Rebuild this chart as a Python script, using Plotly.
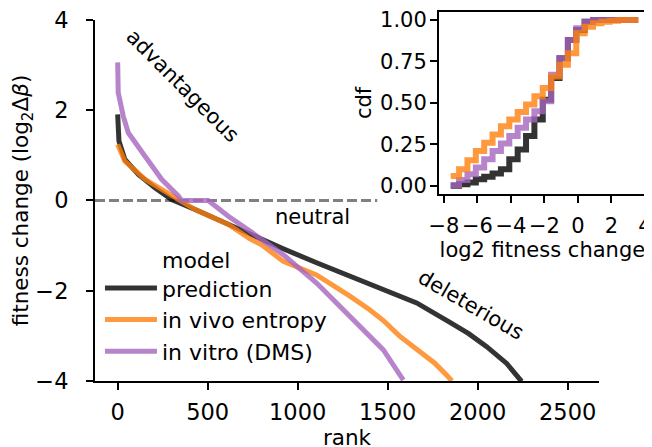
import plotly.graph_objects as go

# ---- main panel data (rank-ordered fitness changes) ----
model_rank = [0, 2, 7, 40, 115, 207, 300, 430, 615, 735, 800, 920, 1105, 1290, 1476, 1661, 1846, 1950, 2050, 2161, 2244]
model_val = [1.91, 1.6, 1.32, 0.91, 0.58, 0.28, 0.02, -0.2, -0.53, -0.76, -0.85, -1.07, -1.38, -1.68, -1.98, -2.27, -2.70, -2.95, -3.24, -3.61, -4.01]

vivo_rank = [0, 40, 152, 300, 430, 615, 735, 800, 920, 1105, 1200, 1290, 1400, 1476, 1565, 1665, 1760, 1828, 1857]
vivo_val = [1.24, 0.87, 0.47, 0.10, -0.2, -0.53, -0.85, -0.98, -1.35, -1.65, -1.88, -2.12, -2.42, -2.66, -3.0, -3.3, -3.6, -3.87, -4.0]

vitro_rank = [0, 3, 31, 59, 152, 244, 337, 355, 503, 615, 735, 920, 1105, 1290, 1476, 1587]
vitro_val = [3.06, 2.39, 1.87, 1.5, 0.98, 0.47, 0.1, 0.0, 0.0, -0.35, -0.68, -1.2, -1.83, -2.57, -3.31, -3.98]

# ---- inset cdf data ----
cdf_x = [-7.6, -7.1, -6.6, -6.1, -5.6, -5.1, -4.6, -4.1, -3.6, -3.1, -2.6, -2.1,
         -1.6, -1.1, -0.6, -0.1, 0.4, 0.9, 1.4, 1.9, 2.4, 2.9, 3.4, 3.6]
cdf_model = [0.0, 0.01, 0.02, 0.04, 0.055, 0.075, 0.10, 0.16, 0.22, 0.30, 0.40, 0.52,
             0.65, 0.77, 0.88, 0.94, 0.99, 1.0, 1.0, 1.0, 1.0, 1.0, 1.0, 1.0]
cdf_vitro = [0.005, 0.036, 0.07, 0.11, 0.16, 0.21, 0.256, 0.30, 0.35, 0.40, 0.45, 0.51,
             0.67, 0.77, 0.88, 0.95, 0.99, 1.0, 1.0, 1.0, 1.0, 1.0, 1.0, 1.0]
cdf_vivo = [0.06, 0.10, 0.155, 0.21, 0.26, 0.31, 0.36, 0.40, 0.445, 0.49, 0.54, 0.59,
            0.66, 0.73, 0.80, 0.92, 0.96, 0.98, 0.99, 0.995, 1.0, 1.0, 1.0, 1.0]

x_ticks = [0, 500, 1000, 1500, 2000, 2500]
y_ticks = [-4, -2, 0, 2, 4]
inset_xticks = [-8, -6, -4, -2, 0, 2, 4]
inset_yticks = [0, 0.25, 0.5, 0.75, 1.0]

BLACK = "rgba(0,0,0,0.8)"
ORANGE = "rgba(255,127,14,0.8)"
PURPLE = "rgba(165,101,191,0.8)"
FONT = "DejaVu Sans"

fig = go.Figure()
fig.add_trace(go.Scatter(x=model_rank, y=model_val, mode="lines", name="model<br>prediction",
                         line=dict(color=BLACK, width=5)))
fig.add_trace(go.Scatter(x=vivo_rank, y=vivo_val, mode="lines", name="in vivo entropy",
                         line=dict(color=ORANGE, width=5)))
fig.add_trace(go.Scatter(x=vitro_rank, y=vitro_val, mode="lines", name="in vitro (DMS)",
                         line=dict(color=PURPLE, width=5)))

fig.add_trace(go.Scatter(x=cdf_x, y=cdf_model, mode="lines", line=dict(color=BLACK, width=6, shape="hv"),
                         xaxis="x2", yaxis="y2", showlegend=False))
fig.add_trace(go.Scatter(x=cdf_x, y=cdf_vitro, mode="lines", line=dict(color=PURPLE, width=6, shape="hv"),
                         xaxis="x2", yaxis="y2", showlegend=False))
fig.add_trace(go.Scatter(x=cdf_x, y=cdf_vivo, mode="lines", line=dict(color=ORANGE, width=6, shape="hv"),
                         xaxis="x2", yaxis="y2", showlegend=False))


def axis_style(tick_size):
    return dict(showline=True, linewidth=2, linecolor="black", ticks="outside", ticklen=7,
                tickwidth=2, tickcolor="black", showgrid=False, zeroline=False, automargin=False,
                ticklabeloverflow="allow",
                tickfont=dict(size=tick_size, color="black", family=FONT))


# the page body adds an 8px offset, so margins are set 8px smaller
fig.update_layout(
    width=652, height=447,
    margin=dict(l=87, r=14, t=3, b=74),
    paper_bgcolor="white", plot_bgcolor="rgba(0,0,0,0)",
    font=dict(family=FONT, size=21, color="black"),
    xaxis=dict(domain=[0, 0.9147], range=[-126, 2674], tickvals=x_ticks, ticklabelstandoff=3,
               title=dict(text="rank", standoff=2, font=dict(size=21.5)), **axis_style(22.5)),
    yaxis=dict(domain=[0, 0.9757], range=[-4, 4], tickvals=y_ticks, ticklabelstandoff=13,
               title=dict(text="fitness change (log<sub>2</sub>Δ<i>β</i>)", standoff=4, font=dict(size=21.5)),
               **axis_style(22.5)),
    xaxis2=dict(domain=[0.6243, 0.9995], range=[-8.3, 4.05], tickvals=inset_xticks, anchor="y2",
                mirror=True, ticklabelstandoff=5,
                title=dict(text="log2 fitness change", standoff=2, font=dict(size=21)),
                **axis_style(21)),
    yaxis2=dict(domain=[0.505, 0.998], range=[-0.05, 1.05], tickvals=inset_yticks, tickformat=".2f",
                anchor="x2", mirror=True, ticklabelstandoff=-1,
                title=dict(text="cdf", standoff=3, font=dict(size=21)), **axis_style(21)),
    legend=dict(x=0.009, y=0.385, xanchor="left", yanchor="top", bgcolor="rgba(0,0,0,0)",
                font=dict(size=22, family=FONT, color="black"), itemwidth=52, valign="bottom",
                tracegroupgap=0),
    shapes=[dict(type="line", xref="x domain", yref="y", x0=0, x1=0.56, y0=0, y1=0,
                 line=dict(color="gray", width=3, dash="10px,4px"), layer="below")],
    annotations=[
        dict(text="advantageous", x=362, y=2.54, xref="x", yref="y", showarrow=False, textangle=45,
             font=dict(size=21)),
        dict(text="neutral", x=1085, y=-0.36, xref="x", yref="y", showarrow=False, font=dict(size=21)),
        dict(text="deleterious", x=1963, y=-2.32, xref="x", yref="y", showarrow=False, textangle=30,
             font=dict(size=21)),
    ],
)

fig.write_html("out.html")
